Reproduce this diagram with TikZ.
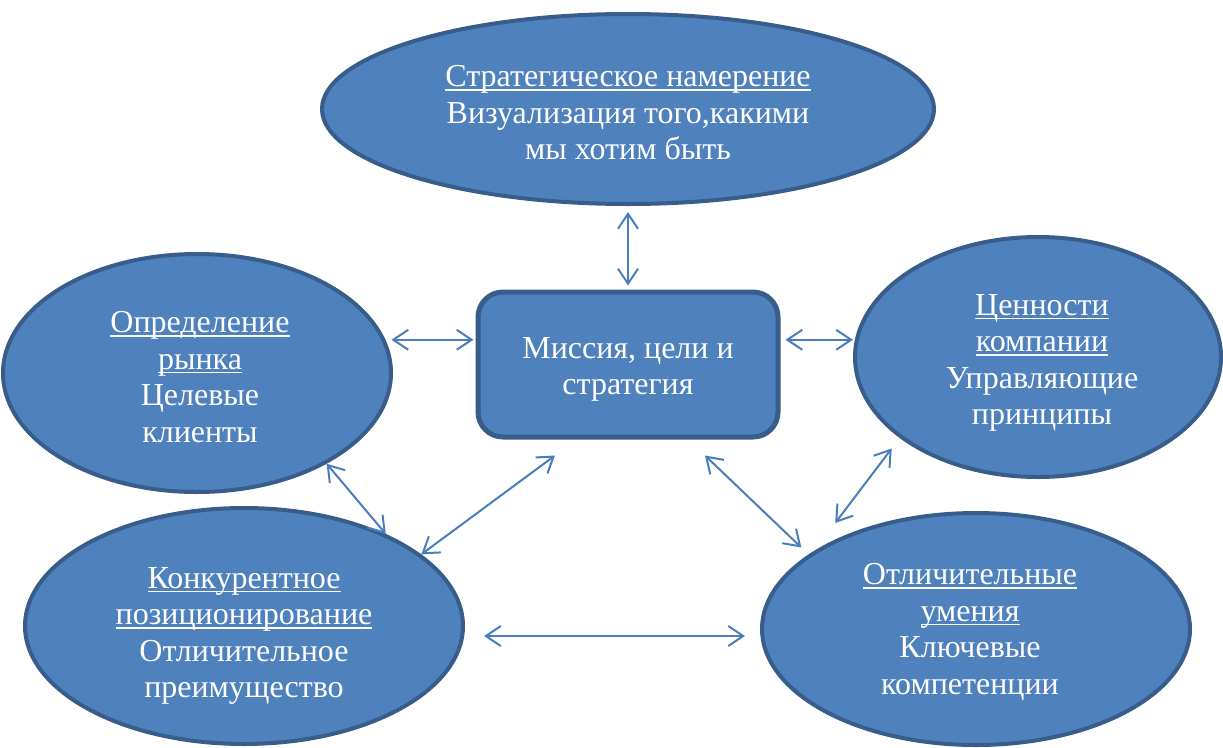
\documentclass[tikz,border=0pt]{standalone}
\usepackage{fontspec}
\setmainfont{Liberation Serif}
\usetikzlibrary{shapes.geometric,arrows.meta,calc}
\definecolor{fillblue}{HTML}{4F81BD}
\definecolor{edgeblue}{HTML}{385D8A}
\definecolor{arrblue}{HTML}{4A7EBB}
\newcommand\myul[1]{\setbox0\hbox{#1}\rlap{\rule[-4pt]{\wd0}{1.5pt}}\box0}
\tikzset{
  ell/.style={ellipse, draw=edgeblue, line width=4pt, fill=fillblue, inner sep=0pt},
  txt/.style={text=white, align=center, font=\fontsize{32}{36.5}\selectfont, inner sep=0pt},
  box/.style={rectangle, rounded corners=25pt, draw=edgeblue, line width=5pt, fill=fillblue,
    inner sep=0pt},
  arr/.style={draw=arrblue, line width=2pt, {Straight Barb[length=15pt,width=20pt]}-{Straight Barb[length=15pt,width=20pt]}}
}
\begin{document}
\begin{tikzpicture}[x=1pt,y=-1pt]
\useasboundingbox (0,0) rectangle (1223,747);
\node[ell, minimum width=612pt, minimum height=190pt] (T) at (628,109) {};
\node[ell, minimum width=388pt, minimum height=238pt] (L) at (197,373) {};
\node[ell, minimum width=366pt, minimum height=240pt] (R) at (1038,357) {};
\node[ell, minimum width=438pt, minimum height=236pt] (BL) at (244,626) {};
\node[ell, minimum width=428pt, minimum height=232pt] (BR) at (976,629) {};
\node[box, minimum width=300pt, minimum height=145pt] (C) at (628,364.5) {};
\node[txt] (Tt) at ($(T)+(0,4)$)
  {\myul{Стратегическое намерение}\\Визуализация того,какими\\мы хотим быть};
\node[txt] (Lt) at ($(L)+(3,4)$)
  {\myul{Определение}\\\myul{рынка}\\Целевые\\клиенты};
\node[txt] (Rt) at ($(R)+(4,6)$)
  {\myul{Ценности}\\\myul{компании}\\Управляющие\\принципы};
\node[txt] (BLt) at ($(BL)+(0,10)$)
  {\myul{Конкурентное}\\\myul{позиционирование}\\Отличительное\\преимущество};
\node[txt] (BRt) at ($(BR)+(-6,3)$)
  {\myul{Отличительные}\\\myul{умения}\\Ключевые\\компетенции};
\node[txt] (Ct) at ($(C)+(0,5)$) {Миссия, цели и\\стратегия};
\coordinate (c1) at ($(C.south)+(-73,16)$);
\coordinate (c2) at ($(C.south)+(77,16)$);
\coordinate (r1) at ($(R.212)+(-12,7.5)$);
\coordinate (b1) at ($(BR.143)+(-14,-10.5)$);
\draw[arr, shorten <=6pt, shorten >=4pt] (T.south) -- (C.north);
\draw[arr, shorten <=6pt, shorten >=2pt] (L.10) -- (C.west |- L.10);
\draw[arr, shorten <=5pt] (C.east |- L.10) -- (R.west |- L.10);
\draw[arr] (L.-35) -- (BL.33);
\draw[arr] (c1) -- (BL.22);
\draw[arr, shorten >=10pt] (c2) -- (BR.156);
\draw[arr] (r1) -- (b1);
\draw[arr] ($(BL.east)+(19,10)$) -- ($(BR.west)+(-15,7)$);
\end{tikzpicture}
\end{document}
